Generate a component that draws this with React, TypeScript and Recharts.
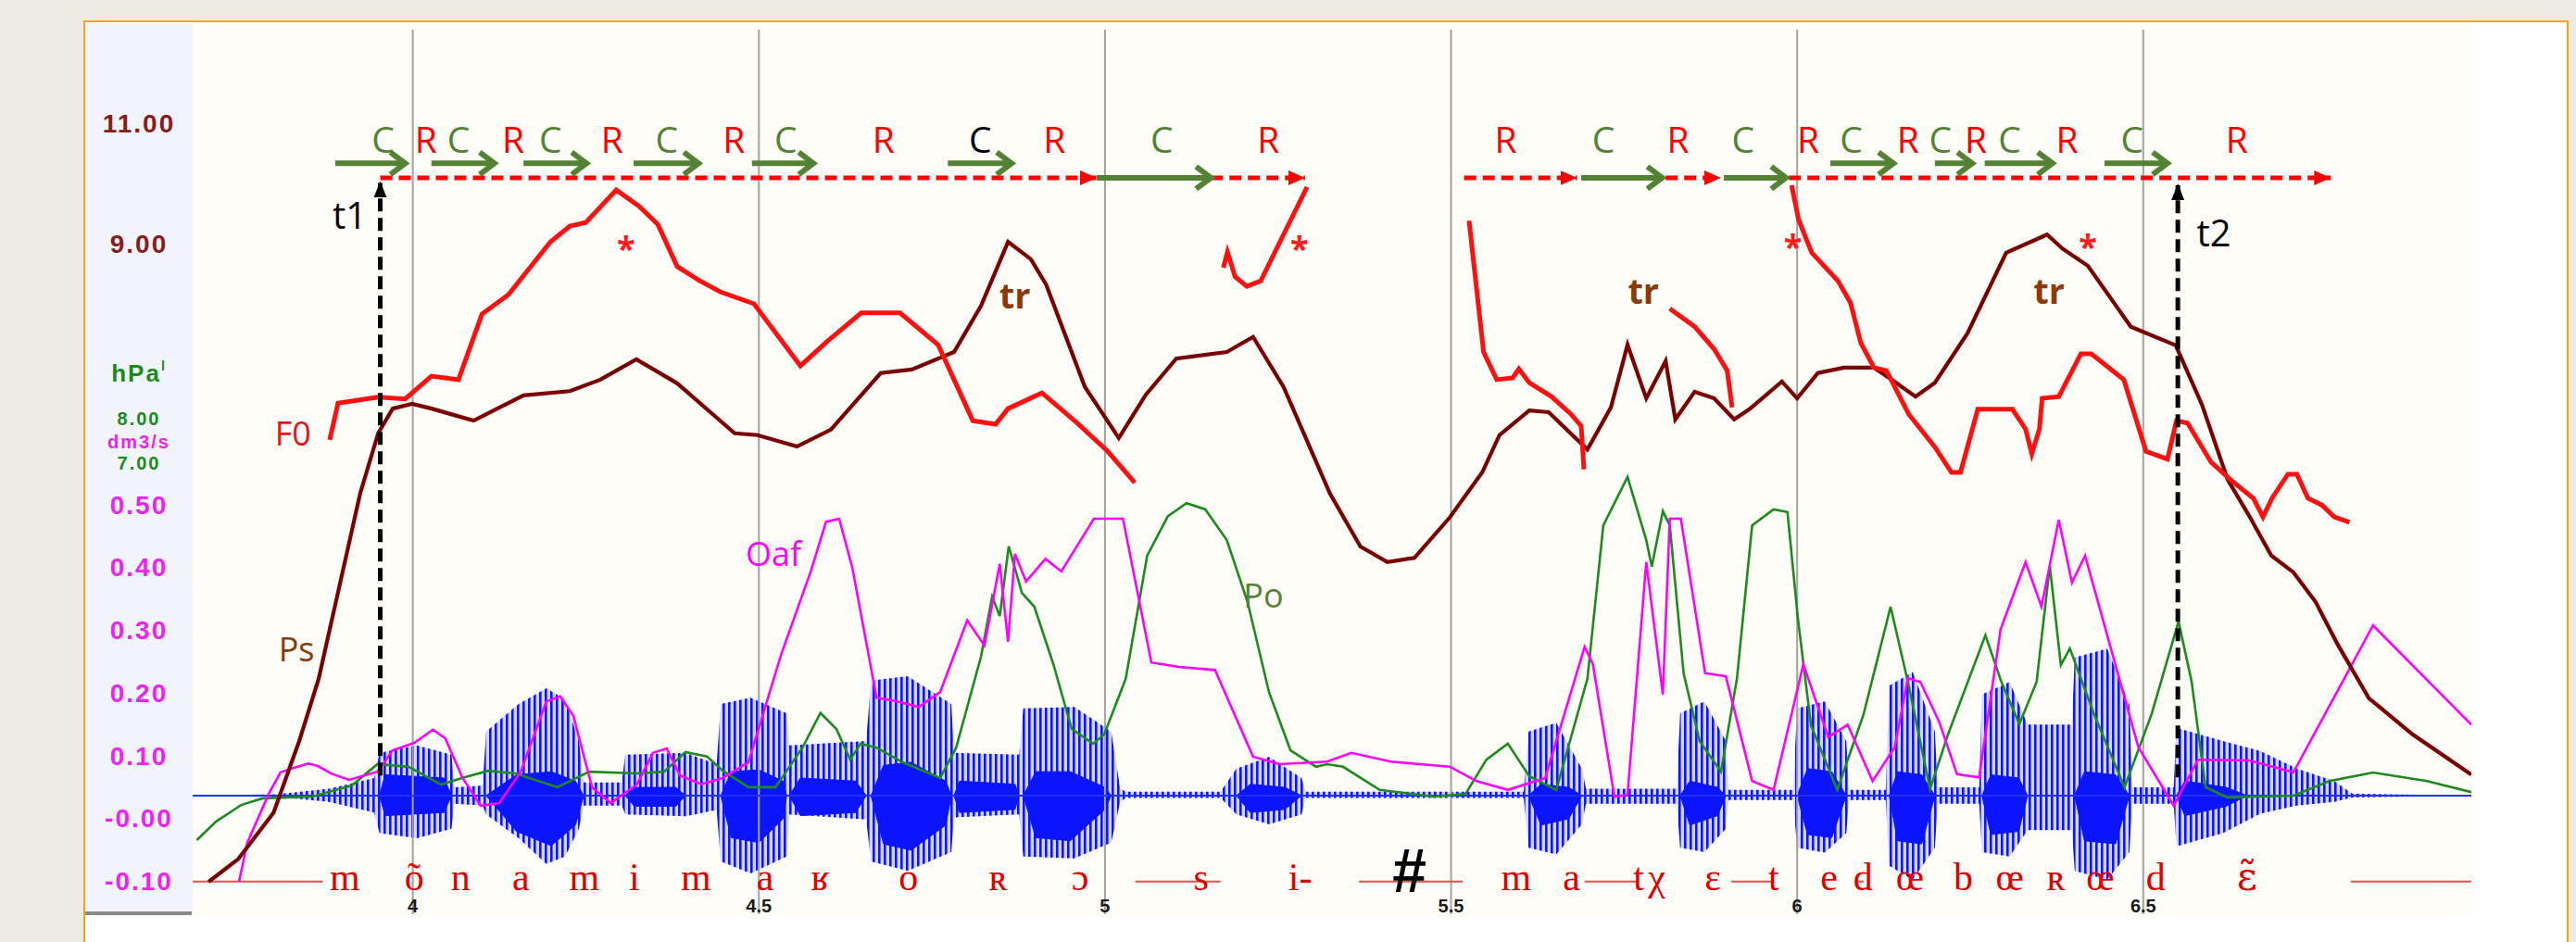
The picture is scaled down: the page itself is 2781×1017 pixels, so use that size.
import React from "react";
import {
  Area,
  ComposedChart,
  Line,
  ReferenceDot,
  ReferenceLine,
  XAxis,
  YAxis,
} from "recharts";

type Pt = [number, number];

// time axis (s)
const timeTicks = [4, 4.5, 5, 5.5, 6, 6.5];
const timeDomain: Pt = [3.682, 6.974];

// left scales, as printed in the panel (small = the crowded middle labels)
const psScale = [
  { v: 11, label: "11.00", small: false },
  { v: 9, label: "9.00", small: false },
];
const poScale = [
  { v: 9.02, label: "hPa", small: false },
  { v: 8, label: "8.00", small: true },
  { v: 7, label: "7.00", small: true },
];
const oafScale = [
  { v: 0.6, label: "dm3/s", small: true },
  { v: 0.5, label: "0.50", small: false },
  { v: 0.4, label: "0.40", small: false },
  { v: 0.3, label: "0.30", small: false },
  { v: 0.2, label: "0.20", small: false },
  { v: 0.1, label: "0.10", small: false },
  { v: 0, label: "-0.00", small: false },
  { v: -0.1, label: "-0.10", small: false },
];

// F0 (drawn on the Ps scale), voiced stretches
const f0Seg1: Pt[] = [
  [3.88, 5.74], [3.892, 6.35], [3.95, 6.45], [3.989, 6.42], [4.027, 6.8], [4.066, 6.74],
  [4.1, 7.83], [4.138, 8.15], [4.199, 9.03], [4.227, 9.29], [4.25, 9.35], [4.294, 9.89],
  [4.327, 9.62], [4.354, 9.32], [4.382, 8.62], [4.415, 8.38], [4.444, 8.2], [4.493, 8.0],
  [4.56, 6.97], [4.599, 7.38], [4.648, 7.85], [4.704, 7.85], [4.759, 7.32], [4.809, 6.06],
  [4.842, 6.0], [4.86, 6.26], [4.909, 6.52], [4.959, 6.03], [5.004, 5.55], [5.043, 5.03],
];
const f0Seg2: Pt[] = [
  [5.171, 8.6], [5.177, 8.86], [5.188, 8.45], [5.205, 8.29], [5.225, 8.38], [5.258, 9.15], [5.292, 9.94],
];
const f0Seg3: Pt[] = [
  [5.526, 9.38], [5.547, 7.2], [5.566, 6.74], [5.589, 6.77], [5.598, 6.92], [5.613, 6.69],
  [5.645, 6.46], [5.673, 6.17], [5.688, 5.97], [5.692, 5.25],
];
const f0Seg4: Pt[] = [
  [5.816, 7.92], [5.852, 7.62], [5.88, 7.25], [5.899, 6.89], [5.906, 6.28],
];
const f0Seg5: Pt[] = [
  [5.992, 9.97], [6.002, 9.4], [6.021, 8.85], [6.059, 8.38], [6.077, 8.02], [6.092, 7.35],
  [6.111, 6.94], [6.129, 6.89], [6.161, 6.17], [6.199, 5.62], [6.223, 5.2], [6.236, 5.2],
  [6.261, 6.25], [6.311, 6.25], [6.33, 5.92], [6.339, 5.51], [6.35, 5.92], [6.354, 6.43],
  [6.378, 6.46], [6.41, 7.17], [6.425, 7.17], [6.472, 6.74], [6.504, 5.55], [6.535, 5.42],
  [6.548, 6.06], [6.564, 6.02], [6.598, 5.37], [6.628, 5.06], [6.659, 4.77], [6.673, 4.46],
  [6.686, 4.77], [6.709, 5.17], [6.722, 5.17], [6.738, 4.77], [6.758, 4.66], [6.776, 4.46],
  [6.798, 4.37],
];

// subglottal pressure Ps (hPa)
const psCurve: Pt[] = [
  [3.705, -1.6], [3.748, -1.22], [3.799, -0.45], [3.836, 0.74], [3.864, 1.77], [3.894, 3.31],
  [3.924, 4.85], [3.95, 5.85], [3.971, 6.26], [3.999, 6.34], [4.027, 6.26], [4.088, 6.06],
  [4.16, 6.48], [4.227, 6.55], [4.271, 6.74], [4.323, 7.08], [4.382, 6.68], [4.465, 5.85],
  [4.498, 5.82], [4.555, 5.63], [4.604, 5.91], [4.676, 6.85], [4.721, 6.91], [4.782, 7.2],
  [4.821, 7.97], [4.86, 9.03], [4.893, 8.74], [4.915, 8.32], [4.971, 6.62], [5.02, 5.77],
  [5.059, 6.49], [5.103, 7.09], [5.176, 7.2], [5.214, 7.45], [5.258, 6.62], [5.325, 4.85],
  [5.369, 3.97], [5.408, 3.71], [5.447, 3.78], [5.498, 4.45], [5.545, 5.2], [5.57, 5.82],
  [5.613, 6.23], [5.641, 6.2], [5.697, 5.58], [5.731, 6.28], [5.755, 7.32], [5.782, 6.43],
  [5.81, 7.05], [5.824, 6.08], [5.852, 6.54], [5.88, 6.43], [5.909, 6.08], [5.931, 6.25],
  [5.978, 6.71], [6.0, 6.43], [6.03, 6.85], [6.068, 6.94], [6.111, 6.94], [6.143, 6.69],
  [6.171, 6.46], [6.199, 6.69], [6.246, 7.51], [6.302, 8.85], [6.361, 9.15], [6.383, 8.92],
  [6.42, 8.63], [6.482, 7.62], [6.547, 7.31], [6.585, 6.32], [6.622, 5.08], [6.653, 4.48],
  [6.685, 3.82], [6.717, 3.54], [6.749, 3.05], [6.781, 2.34], [6.826, 1.45], [6.889, 0.85],
  [6.974, 0.18],
];

// oral pressure Po (hPa)
const poCurve: Pt[] = [
  [3.688, -1.48], [3.716, -1.06], [3.752, -0.69], [3.783, -0.54], [3.855, -0.5], [3.912, -0.25],
  [3.949, 0.23], [3.994, 0.17], [4.041, -0.23], [4.072, -0.08], [4.109, 0.08], [4.148, 0.02],
  [4.209, -0.29], [4.255, 0.06], [4.324, 0.02], [4.363, 0.06], [4.394, 0.5], [4.425, 0.4],
  [4.448, 0.08], [4.485, -0.29], [4.524, -0.29], [4.563, 0.6], [4.589, 1.38], [4.612, 1.02],
  [4.632, 0.33], [4.647, 0.69], [4.67, 0.6], [4.708, 0.27], [4.762, -0.08], [4.785, 0.6],
  [4.821, 2.65], [4.837, 4.0], [4.848, 3.56], [4.861, 5.13], [4.88, 4.08], [4.898, 3.77],
  [4.925, 2.5], [4.952, 1.02], [4.983, 0.69], [4.999, 0.9], [5.03, 2.15], [5.061, 4.92],
  [5.091, 5.81], [5.118, 6.1], [5.145, 5.96], [5.176, 5.27], [5.206, 3.88], [5.237, 1.85],
  [5.268, 0.54], [5.305, 0.17], [5.321, 0.23], [5.344, 0.17], [5.397, -0.35], [5.475, -0.5],
  [5.521, -0.44], [5.551, 0.33], [5.582, 0.69], [5.613, -0.04], [5.652, -0.35], [5.697, 2.15],
  [5.72, 5.6], [5.755, 6.69], [5.782, 5.27], [5.79, 4.67], [5.806, 5.92], [5.816, 5.6],
  [5.836, 2.27], [5.859, 0.75], [5.89, 0.06], [5.913, 2.15], [5.935, 5.6], [5.966, 5.96],
  [5.986, 5.9], [6.001, 3.52], [6.02, 1.1], [6.058, -0.35], [6.096, 1.35], [6.135, 3.77],
  [6.16, 2.08], [6.192, -0.33], [6.218, 0.9], [6.272, 3.13], [6.295, 2.08], [6.321, 1.13],
  [6.346, 2.08], [6.365, 4.69], [6.381, 2.46], [6.394, 2.83], [6.429, 1.35], [6.473, -0.29],
  [6.512, 1.35], [6.551, 3.44], [6.57, 2.08], [6.59, -0.29], [6.622, -0.52], [6.717, -0.48],
  [6.769, -0.15], [6.832, 0.04], [6.91, -0.15], [6.974, -0.4],
];

// oral airflow Oaf (dm3/s)
const oafCurve: Pt[] = [
  [3.749, -0.1], [3.761, -0.038], [3.792, 0.04], [3.809, 0.074], [3.828, 0.081], [3.849, 0.088],
  [3.863, 0.084], [3.882, 0.072], [3.908, 0.062], [3.949, 0.075], [3.971, 0.109], [4.002, 0.121],
  [4.029, 0.142], [4.047, 0.128], [4.072, 0.065], [4.098, 0.021], [4.125, 0.025], [4.156, 0.075],
  [4.193, 0.187], [4.213, 0.195], [4.232, 0.164], [4.259, 0.05], [4.286, 0.025], [4.324, 0.055],
  [4.347, 0.105], [4.367, 0.112], [4.386, 0.069], [4.417, 0.055], [4.448, 0.065], [4.485, 0.09],
  [4.532, 0.261], [4.575, 0.394], [4.597, 0.473], [4.616, 0.478], [4.635, 0.4], [4.67, 0.193],
  [4.7, 0.187], [4.731, 0.178], [4.762, 0.202], [4.801, 0.316], [4.826, 0.276], [4.848, 0.406],
  [4.86, 0.282], [4.87, 0.422], [4.886, 0.378], [4.914, 0.414], [4.937, 0.394], [4.984, 0.478],
  [5.026, 0.478], [5.067, 0.249], [5.106, 0.242], [5.159, 0.237], [5.214, 0.099], [5.252, 0.087],
  [5.321, 0.091], [5.356, 0.105], [5.413, 0.091], [5.498, 0.083], [5.537, 0.06], [5.582, 0.046],
  [5.636, 0.065], [5.693, 0.274], [5.705, 0.246], [5.736, 0.035], [5.755, 0.038], [5.782, 0.409],
  [5.806, 0.198], [5.816, 0.478], [5.832, 0.478], [5.867, 0.232], [5.897, 0.227], [5.935, 0.06],
  [5.966, 0.046], [6.009, 0.246], [6.045, 0.13], [6.073, 0.15], [6.109, 0.06], [6.141, 0.114],
  [6.16, 0.224], [6.178, 0.218], [6.205, 0.155], [6.231, 0.071], [6.263, 0.066], [6.294, 0.302],
  [6.33, 0.409], [6.353, 0.338], [6.378, 0.476], [6.397, 0.376], [6.416, 0.419], [6.493, 0.114],
  [6.544, 0.021], [6.579, 0.094], [6.653, 0.093], [6.717, 0.074], [6.832, 0.308], [6.974, 0.15],
];

// audio waveform on the dm3/s scale: spike tips [t, top, bottom]
const waveBaseline = 0.037;
const waveEnvelope: [number, number, number][] = [
  [3.682, 0.037, 0.037], [3.803, 0.039, 0.035], [3.879, 0.048, 0.027], [3.944, 0.065, 0.01],
  [3.952, 0.105, -0.023], [4.006, 0.117, -0.031], [4.056, 0.102, -0.016], [4.06, 0.05, 0.024],
  [4.101, 0.053, 0.021], [4.106, 0.139, 0.007], [4.153, 0.183, -0.031], [4.193, 0.208, -0.072],
  [4.22, 0.19, -0.06], [4.24, 0.124, -0.016], [4.247, 0.058, 0.021], [4.302, 0.058, 0.021],
  [4.307, 0.102, 0.007], [4.394, 0.105, 0.004], [4.439, 0.087, 0.014], [4.445, 0.183, -0.068],
  [4.488, 0.193, -0.087], [4.54, 0.168, -0.06], [4.544, 0.117, 0.007], [4.655, 0.124, -0.001],
  [4.662, 0.22, -0.068], [4.715, 0.227, -0.083], [4.778, 0.183, -0.053], [4.782, 0.105, 0.002],
  [4.876, 0.102, 0.007], [4.882, 0.176, -0.06], [4.956, 0.178, -0.063], [5.009, 0.139, -0.038],
  [5.022, 0.048, 0.027], [5.03, 0.043, 0.033], [5.167, 0.043, 0.033], [5.19, 0.08, 0.007],
  [5.237, 0.099, -0.009], [5.284, 0.065, 0.007], [5.29, 0.043, 0.033], [5.605, 0.043, 0.033],
  [5.612, 0.139, -0.046], [5.652, 0.153, -0.057], [5.689, 0.08, -0.009], [5.695, 0.048, 0.024],
  [5.826, 0.048, 0.024], [5.831, 0.168, -0.046], [5.866, 0.187, -0.053], [5.897, 0.124, -0.016],
  [5.901, 0.046, 0.03], [5.994, 0.046, 0.03], [6.0, 0.176, -0.046], [6.04, 0.187, -0.054],
  [6.071, 0.124, -0.023], [6.075, 0.046, 0.03], [6.128, 0.046, 0.03], [6.133, 0.212, -0.075],
  [6.167, 0.234, -0.097], [6.199, 0.139, -0.046], [6.203, 0.05, 0.024], [6.263, 0.05, 0.024],
  [6.267, 0.198, -0.053], [6.307, 0.218, -0.06], [6.333, 0.15, -0.018], [6.397, 0.15, -0.018],
  [6.401, 0.257, -0.083], [6.448, 0.271, -0.097], [6.48, 0.183, -0.053], [6.484, 0.05, 0.024],
  [6.544, 0.05, 0.024], [6.548, 0.145, -0.044], [6.615, 0.124, -0.023], [6.669, 0.108, 0.008],
  [6.722, 0.08, 0.021], [6.776, 0.06, 0.027], [6.802, 0.04, 0.034], [6.974, 0.037, 0.037],
];
// dense (solid) core of each voiced burst
const waveCore: [number, number, number][] = [
  [3.682, 0.037, 0.037], [3.952, 0.037, 0.037], [3.96, 0.07, 0.005], [4.045, 0.065, 0.01],
  [4.056, 0.037, 0.037], [4.106, 0.037, 0.037], [4.15, 0.07, -0.02], [4.2, 0.075, -0.043],
  [4.235, 0.06, -0.01], [4.247, 0.037, 0.037], [4.307, 0.037, 0.037], [4.32, 0.05, 0.02],
  [4.38, 0.05, 0.02], [4.394, 0.037, 0.037], [4.445, 0.037, 0.037], [4.46, 0.075, -0.03],
  [4.5, 0.078, -0.038], [4.535, 0.06, 0.0], [4.54, 0.037, 0.037], [4.544, 0.037, 0.037],
  [4.56, 0.065, 0.005], [4.64, 0.06, 0.01], [4.655, 0.037, 0.037], [4.662, 0.037, 0.037],
  [4.68, 0.085, -0.04], [4.72, 0.09, -0.05], [4.77, 0.06, -0.01], [4.778, 0.037, 0.037],
  [4.782, 0.037, 0.037], [4.79, 0.06, 0.01], [4.87, 0.055, 0.015], [4.876, 0.037, 0.037],
  [4.882, 0.037, 0.037], [4.9, 0.075, -0.03], [4.95, 0.075, -0.035], [5.0, 0.05, 0.015],
  [5.009, 0.037, 0.037], [5.19, 0.037, 0.037], [5.21, 0.055, 0.01], [5.26, 0.05, 0.015],
  [5.284, 0.037, 0.037], [5.612, 0.037, 0.037], [5.63, 0.055, -0.01], [5.67, 0.05, 0.0],
  [5.689, 0.037, 0.037], [5.831, 0.037, 0.037], [5.845, 0.06, -0.01], [5.885, 0.05, 0.005],
  [5.897, 0.037, 0.037], [6.0, 0.037, 0.037], [6.015, 0.08, -0.025], [6.05, 0.075, -0.03],
  [6.071, 0.037, 0.037], [6.133, 0.037, 0.037], [6.145, 0.075, -0.035], [6.18, 0.07, -0.04],
  [6.199, 0.037, 0.037], [6.267, 0.037, 0.037], [6.28, 0.07, -0.025], [6.32, 0.065, -0.02],
  [6.333, 0.037, 0.037], [6.401, 0.037, 0.037], [6.415, 0.075, -0.035], [6.46, 0.07, -0.04],
  [6.48, 0.037, 0.037], [6.548, 0.037, 0.037], [6.56, 0.06, 0.005], [6.62, 0.05, 0.02],
  [6.65, 0.037, 0.037], [6.974, 0.037, 0.037],
];

// C / R annotation row (levels on the dm3/s scale)
const rowLowLevel = 1.021;
const rowHighLevel = 1.044;
const rowLabelLevel = 1.083;
const redDashArrows: Pt[] = [
  [3.953, 4.988], [5.153, 5.289], [5.519, 5.682], [5.81, 5.89], [5.988, 6.771],
];
const greenArrowsLow: Pt[] = [
  [4.988, 5.153], [5.688, 5.805], [5.894, 5.984],
];
const greenArrowsHigh: Pt[] = [
  [3.888, 3.989], [4.027, 4.118], [4.16, 4.251], [4.319, 4.413], [4.49, 4.579], [4.773, 4.865],
  [6.048, 6.139], [6.199, 6.253], [6.271, 6.369], [6.444, 6.535],
];
const crTimes = [
  3.957, 4.019, 4.066, 4.145, 4.199, 4.288, 4.367, 4.464, 4.539, 4.68, 4.82, 4.927, 5.082, 5.236,
  5.579, 5.72, 5.828, 5.922, 6.016, 6.078, 6.16, 6.207, 6.258, 6.307, 6.39, 6.484, 6.635,
];
const crTexts = [
  "C", "R", "C", "R", "C", "R", "C", "R", "C", "R", "C*", "R", "C", "R",
  "R", "C", "R", "C", "R", "C", "R", "C", "R", "C", "R", "C", "R",
];

// t1 / t2 markers: [t, bottom, top]
const timeMarkers: [number, number, number][] = [
  [3.953, 0.069, 1.013],
  [6.55, 0.066, 1.009],
];
const timeMarkerLabels: [number, number, string][] = [
  [3.909, 0.962, "t1"],
  [6.602, 0.935, "t2"],
];

const starPoints: Pt[] = [[4.308, 0.91], [5.281, 0.91], [5.994, 0.913], [6.42, 0.913]];
const trPoints: Pt[] = [[4.87, 0.835], [5.778, 0.842], [6.364, 0.842]];

const seriesLabels: [number, number, string, string][] = [
  [3.827, 0.614, "F0", "#e8141a"],
  [3.832, 0.271, "Ps", "#843c0c"],
  [4.521, 0.423, "Oaf", "#ff00ff"],
  [5.229, 0.357, "Po", "#548235"],
];

// phonetic transcription
const phoneLevel = -0.113;
const phoneLineLevel = -0.1;
const phoneTimes = [
  3.902, 4.002, 4.069, 4.156, 4.248, 4.32, 4.409, 4.509, 4.589, 4.716, 4.846, 4.964, 5.139,
  5.282, 5.594, 5.674, 5.771, 5.797, 5.878, 5.966, 6.046, 6.095, 6.163, 6.24, 6.307, 6.374,
  6.438, 6.518, 6.65,
];
const phoneTexts = [
  "m", "õ", "n", "a", "m", "i", "m", "a", "ʁ", "o", "ʀ", "ɔ", "s",
  "i-", "m", "a", "t", "χ", "ε", "t", "e", "d", "œ", "b", "œ", "ʀ",
  "œ", "d", "ε̃",
];
const phoneLines: Pt[] = [
  [3.682, 3.87], [5.044, 5.167], [5.367, 5.517], [5.693, 5.771], [5.905, 5.966], [6.084, 6.096],
  [6.8, 6.974],
];
const pauseMark: [number, number, string] = [5.44, -0.083, "#"];

const toRows = (pts: Pt[]) => pts.map(([t, v]) => ({ t, v }));
const toRange = (pts: [number, number, number][]) =>
  pts.map(([t, hi, lo]) => ({ t, range: [lo, hi] }));

const AXIS_FONT = "'Liberation Sans', Arial, sans-serif";
const LABEL_FONT = "'Open Sans', 'Noto Sans', sans-serif";
const SERIF = "'Liberation Serif', 'DejaVu Serif', serif";

function scaleTick(labels: { v: number; label: string; small: boolean }[], color: string) {
  return (props: any) => {
    const { y, payload } = props;
    const item = labels.find((l) => Math.abs(l.v - payload.value) < 1e-6);
    if (!item) return <g />;
    const isUnit = item.label === "hPa";
    return (
      <text
        x={150}
        y={y}
        textAnchor="middle"
        dominantBaseline="central"
        fontFamily={AXIS_FONT}
        fontWeight="bold"
        fontSize={item.small ? 20 : isUnit ? 26 : 28}
        letterSpacing={2}
        fill={color}
      >
        {item.label}
        {isUnit && (
          <tspan fontSize={14} dy={-8}>
            l
          </tspan>
        )}
      </text>
    );
  };
}

function TimeTick(props: any) {
  const { x, y, payload } = props;
  return (
    <text
      x={x}
      y={y - 2}
      textAnchor="middle"
      fontFamily={AXIS_FONT}
      fontWeight="bold"
      fontSize={20}
      fill="#1a1a1a"
    >
      {payload.value}
    </text>
  );
}

const lineShape =
  (stroke: string, width: number, dash?: string, marker?: string) => (p: any) =>
    (
      <line
        x1={p.x1}
        y1={p.y1}
        x2={p.x2}
        y2={p.y2}
        stroke={stroke}
        strokeWidth={width}
        strokeDasharray={dash}
        markerEnd={marker ? `url(#${marker})` : undefined}
      />
    );

const textShape =
  (text: string, color: string, size: number, opts: any = {}) => (p: any) =>
    (
      <text
        x={p.cx}
        y={p.cy}
        textAnchor="middle"
        dominantBaseline={opts.baseline ?? "central"}
        fontFamily={opts.font ?? LABEL_FONT}
        fontWeight={opts.bold ? "bold" : "normal"}
        fontSize={size}
        fill={color}
      >
        {text}
      </text>
    );

export default function App() {
  return (
    <div
      style={{
        position: "absolute",
        left: 0,
        top: 0,
        width: 2781,
        height: 1017,
        overflow: "hidden",
        background: "#eceae2",
      }}
    >
      <div
        style={{
          position: "absolute",
          left: 90,
          top: 22,
          width: 2683,
          height: 1040,
          boxSizing: "border-box",
          border: "2.5px solid #f9a11b",
          background: "#ffffff",
        }}
      />
      <div
        style={{ position: "absolute", left: 92, top: 25, width: 116, height: 960, background: "#f1f5fb" }}
      />
      <div
        style={{ position: "absolute", left: 92, top: 984, width: 115, height: 4, background: "#8a8a8a" }}
      />
      <div
        style={{ position: "absolute", left: 208, top: 25, width: 2460, height: 965, background: "#fffdf8" }}
      />
      <div style={{ position: "absolute", left: 0, top: 0 }}>
        <ComposedChart
          width={2781}
          height={1017}
          margin={{ top: 32, right: 113, bottom: 29, left: 205 }}
        >
          <defs>
            <pattern id="waveHatch" width="6" height="8" patternUnits="userSpaceOnUse">
              <rect width="6" height="8" fill="rgba(30,40,255,0.18)" />
              <rect width="2.6" height="8" fill="#0a14ff" />
            </pattern>
            <marker id="redHead" markerWidth="20" markerHeight="20" refX="18" refY="10" orient="auto" markerUnits="userSpaceOnUse">
              <path d="M0,2 L18,10 L0,18 Z" fill="#ff0000" />
            </marker>
            <marker id="greenHead" markerWidth="26" markerHeight="32" refX="21" refY="16" orient="auto" markerUnits="userSpaceOnUse">
              <path d="M5,4 L21,16 L5,28" fill="none" stroke="#548235" strokeWidth="6" />
            </marker>
            <marker id="blackHead" markerWidth="18" markerHeight="20" refX="16" refY="9" orient="auto" markerUnits="userSpaceOnUse">
              <path d="M0,2 L18,9 L0,16 Z" fill="#000000" />
            </marker>
          </defs>

          <XAxis
            type="number"
            dataKey="t"
            domain={timeDomain}
            allowDataOverflow
            ticks={timeTicks}
            interval={0}
            height={1}
            axisLine={false}
            tickLine={false}
            tickSize={0}
            tickMargin={0}
            tick={(p: any) => <TimeTick {...p} />}
          />
          <YAxis
            yAxisId="ps"
            type="number"
            domain={[-2.138, 12.554]}
            allowDataOverflow
            ticks={psScale.map((s) => s.v)}
            interval={0}
            width={1}
            axisLine={false}
            tickLine={false}
            tickSize={0}
            tickMargin={0}
            tick={scaleTick(psScale, "#8b1a1a")}
          />
          <YAxis
            yAxisId="po"
            type="number"
            domain={[-3.146, 16.75]}
            allowDataOverflow
            ticks={poScale.map((s) => s.v)}
            interval={0}
            width={1}
            axisLine={false}
            tickLine={false}
            tickSize={0}
            tickMargin={0}
            tick={scaleTick(poScale, "#1a8a1a")}
          />
          <YAxis
            yAxisId="oaf"
            type="number"
            domain={[-0.152, 1.257]}
            allowDataOverflow
            ticks={oafScale.map((s) => s.v)}
            interval={0}
            width={1}
            axisLine={false}
            tickLine={false}
            tickSize={0}
            tickMargin={0}
            tick={scaleTick(oafScale, "#ee22ee")}
          />

          {timeTicks.map((t) => (
            <ReferenceLine key={`g${t}`} x={t} yAxisId="oaf" stroke="#a2a2a2" strokeWidth={2} />
          ))}

          {phoneLines.map(([a, b], i) => (
            <ReferenceLine
              key={`pl${i}`}
              yAxisId="oaf"
              segment={[{ x: a, y: phoneLineLevel }, { x: b, y: phoneLineLevel }]}
              shape={lineShape("#e05050", 2)}
            />
          ))}

          <Area
            yAxisId="oaf"
            data={toRange(waveEnvelope)}
            dataKey="range"
            type="linear"
            stroke="none"
            fill="url(#waveHatch)"
            fillOpacity={1}
            dot={false}
            activeDot={false}
            isAnimationActive={false}
          />
          <Area
            yAxisId="oaf"
            data={toRange(waveCore)}
            dataKey="range"
            type="linear"
            stroke="#0a14ff"
            strokeWidth={1}
            fill="#0a14ff"
            fillOpacity={1}
            dot={false}
            activeDot={false}
            isAnimationActive={false}
          />
          <ReferenceLine y={waveBaseline} yAxisId="oaf" stroke="#2030ff" strokeWidth={2} />

          <Line yAxisId="po" data={toRows(poCurve)} dataKey="v" type="linear" stroke="#1e8a1e" strokeWidth={2.6} dot={false} activeDot={false} isAnimationActive={false} />
          <Line yAxisId="oaf" data={toRows(oafCurve)} dataKey="v" type="linear" stroke="#ff00ff" strokeWidth={2.6} dot={false} activeDot={false} isAnimationActive={false} />
          <Line yAxisId="ps" data={toRows(psCurve)} dataKey="v" type="linear" stroke="#7a0000" strokeWidth={4.2} dot={false} activeDot={false} isAnimationActive={false} />
          {[f0Seg1, f0Seg2, f0Seg3, f0Seg4, f0Seg5].map((seg, i) => (
            <Line key={`f0${i}`} yAxisId="ps" data={toRows(seg)} dataKey="v" type="linear" stroke="#ff1010" strokeWidth={5} dot={false} activeDot={false} isAnimationActive={false} />
          ))}

          {redDashArrows.map(([a, b], i) => (
            <ReferenceLine
              key={`rd${i}`}
              yAxisId="oaf"
              segment={[{ x: a, y: rowLowLevel }, { x: b, y: rowLowLevel }]}
              shape={lineShape("#ff0000", 5, "13 7", "redHead")}
            />
          ))}
          {greenArrowsLow.map(([a, b], i) => (
            <ReferenceLine
              key={`gl${i}`}
              yAxisId="oaf"
              segment={[{ x: a, y: rowLowLevel }, { x: b, y: rowLowLevel }]}
              shape={lineShape("#548235", 6, undefined, "greenHead")}
            />
          ))}
          {greenArrowsHigh.map(([a, b], i) => (
            <ReferenceLine
              key={`gh${i}`}
              yAxisId="oaf"
              segment={[{ x: a, y: rowHighLevel }, { x: b, y: rowHighLevel }]}
              shape={lineShape("#548235", 6, undefined, "greenHead")}
            />
          ))}
          {crTimes.map((t, i) => {
            const txt = crTexts[i];
            const color = txt === "C*" ? "#000000" : txt === "C" ? "#548235" : "#ff0000";
            return (
              <ReferenceDot
                key={`cr${i}`}
                yAxisId="oaf"
                x={t}
                y={rowLabelLevel}
                r={0}
                shape={textShape(txt.replace("*", ""), color, 39)}
              />
            );
          })}

          {timeMarkers.map(([t, lo, hi], i) => (
            <ReferenceLine
              key={`tm${i}`}
              yAxisId="oaf"
              segment={[{ x: t, y: lo }, { x: t, y: hi }]}
              shape={lineShape("#000000", 5, "14 7", "blackHead")}
            />
          ))}
          {timeMarkerLabels.map(([t, v, s]) => (
            <ReferenceDot key={s} yAxisId="oaf" x={t} y={v} r={0} shape={textShape(s, "#000000", 40)} />
          ))}

          {starPoints.map(([t, v], i) => (
            <ReferenceDot key={`st${i}`} yAxisId="oaf" x={t} y={v} r={0} shape={textShape("*", "#ff1a1a", 36, { bold: true })} />
          ))}
          {trPoints.map(([t, v], i) => (
            <ReferenceDot key={`tr${i}`} yAxisId="oaf" x={t} y={v} r={0} shape={textShape("tr", "#8b3a0c", 38, { bold: true })} />
          ))}
          {seriesLabels.map(([t, v, s, c]) => (
            <ReferenceDot key={s} yAxisId="oaf" x={t} y={v} r={0} shape={textShape(s, c, 36)} />
          ))}

          {phoneTimes.map((t, i) => (
            <ReferenceDot
              key={`ph${i}`}
              yAxisId="oaf"
              x={t}
              y={phoneLevel}
              r={0}
              shape={textShape(phoneTexts[i], "#e00000", 42, {
                baseline: "alphabetic",
                font: phoneTexts[i] === "ε̃" ? "'DejaVu Serif', serif" : SERIF,
              })}
            />
          ))}
          <ReferenceDot
            yAxisId="oaf"
            x={pauseMark[0]}
            y={pauseMark[1]}
            r={0}
            shape={textShape(pauseMark[2], "#000000", 66, { bold: true, font: AXIS_FONT })}
          />
        </ComposedChart>
      </div>
    </div>
  );
}
